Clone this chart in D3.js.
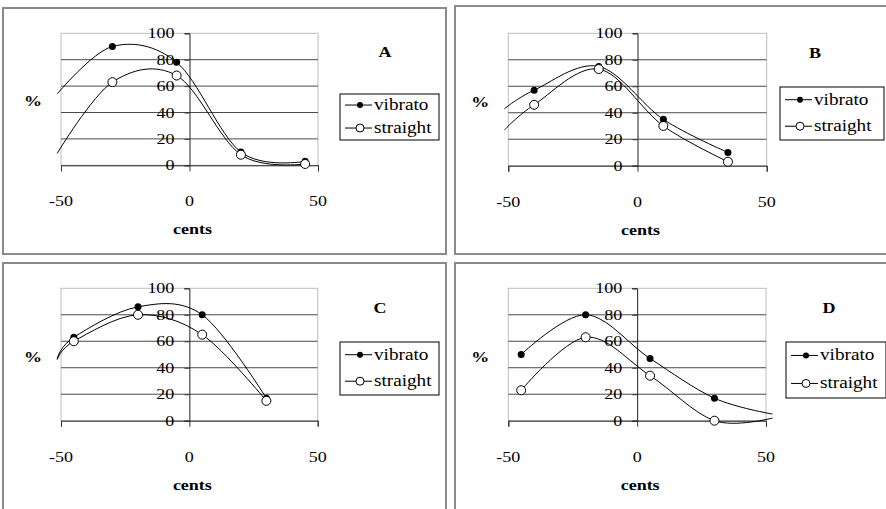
<!DOCTYPE html>
<html>
<head>
<meta charset="utf-8">
<script src="https://cdn.jsdelivr.net/npm/d3@7"></script>
<style>
  html, body { margin: 0; padding: 0; background: #fff; }
  svg { display: block; }
</style>
</head>
<body>
<svg id="chart" width="886" height="509"></svg>
<script>
// ---- data ----------------------------------------------------------------
const panelNames = ["A", "B", "C", "D"];
const seriesNames = ["vibrato", "straight"];
const xTicks = [-50, 0, 50];
const yTicks = [0, 20, 40, 60, 80, 100];

// cents at which each panel was measured
const centsA = [-30, -5, 20, 45];
const centsB = [-40, -15, 10, 35];
const centsC = [-45, -20, 5, 30];
const centsD = [-45, -20, 5, 30];

// % responses
const vibratoA  = [90, 78, 10, 3];
const straightA = [63, 68, 8, 1];
const vibratoB  = [57, 75, 35, 10];
const straightB = [46, 73, 30, 3];
const vibratoC  = [63, 86, 80, 17];
const straightC = [60, 80, 65, 15];
const vibratoD  = [50, 80, 47, 17];
const straightD = [23, 63, 34, 0];

// unmarked ends of the smoothed lines where they run past the outer points
// [cents, vibrato %, straight %]
const leadA  = [-51.5, 54, 9];
const leadB  = [-51.5, 43, 27];
const leadC  = [-51.5, 47, 46];
const trailD = [52.5, 5, 2];

// ---- layout --------------------------------------------------------------
const FONT = "'Liberation Serif', 'Times New Roman', Times, 'DejaVu Serif', serif";

const layout = {
  A: { frame: [3, 8, 443, 246],   px: [61, 318],    py: [165.3, 33.3], letterX: 385, legend: [340, 94, 99, 46] },
  B: { frame: [455, 6, 440, 248], px: [508.3, 766.7], py: [165.7, 33.3], letterX: 815, legend: [780, 87, 104, 53] },
  C: { frame: [3, 263, 443, 250], px: [61, 317.7],  py: [420.7, 288.3], letterX: 380, legend: [340, 342, 99, 53] },
  D: { frame: [455, 263, 440, 250], px: [508.3, 766], py: [420.7, 288.3], letterX: 829, legend: [786, 342, 100, 56] }
};

const panelData = {
  A: { cents: centsA, vib: vibratoA, str: straightA, lead: leadA, trail: null },
  B: { cents: centsB, vib: vibratoB, str: straightB, lead: leadB, trail: null },
  C: { cents: centsC, vib: vibratoC, str: straightC, lead: leadC, trail: null },
  D: { cents: centsD, vib: vibratoD, str: straightD, lead: null, trail: trailD }
};

const SX = 1.2; // horizontal stretch of the lettering
const svg = d3.select("#chart");

function stretchedText(g, x, y, str, opts) {
  const t = g.append("text")
    .attr("transform", `translate(${x},${y}) scale(${SX},1)`)
    .attr("font-family", FONT)
    .attr("font-size", opts.size)
    .attr("fill", "#000")
    .attr("text-anchor", opts.anchor || "start")
    .text(str);
  if (opts.bold) t.attr("font-weight", "bold");
  return t;
}

panelNames.forEach(name => {
  const L = layout[name];
  const D = panelData[name];
  const g = svg.append("g");

  // outer frame
  g.append("rect")
    .attr("x", L.frame[0]).attr("y", L.frame[1])
    .attr("width", L.frame[2]).attr("height", L.frame[3])
    .attr("fill", "#fff").attr("stroke", "#8a8a8a").attr("stroke-width", 2);

  const x = d3.scaleLinear().domain([-50, 50]).range(L.px);
  const y = d3.scaleLinear().domain([0, 100]).range(L.py);

  // plot border
  g.append("rect")
    .attr("x", x(-50)).attr("y", y(100))
    .attr("width", x(50) - x(-50)).attr("height", y(0) - y(100))
    .attr("fill", "none").attr("stroke", "#bdbdbd").attr("stroke-width", 1);

  // horizontal gridlines
  g.append("g").selectAll("line")
    .data(yTicks.filter(v => v > 0 && v < 100))
    .join("line")
    .attr("x1", x(-50)).attr("x2", x(50))
    .attr("y1", d => y(d)).attr("y2", d => y(d))
    .attr("stroke", "#4a4a4a").attr("stroke-width", 1);

  // x axis along 0 %
  const xAxis = g.append("g")
    .attr("transform", `translate(0,${y(0)})`)
    .call(d3.axisBottom(x).tickValues(xTicks).tickSize(6).tickFormat(""));
  xAxis.select(".domain").attr("stroke", "#222");
  xAxis.selectAll(".tick line").attr("stroke", "#333");

  // y axis through 0 cents
  const yAxis = g.append("g")
    .attr("transform", `translate(${x(0)},0)`)
    .call(d3.axisLeft(y).tickValues(yTicks).tickSize(5).tickFormat(""));
  yAxis.select(".domain").attr("stroke", "#222");
  yAxis.selectAll(".tick line").attr("stroke", "#333");

  // tick labels
  yTicks.forEach(v => stretchedText(g, x(0) - 15, y(v) + 5, String(v), { size: 15, anchor: "end" }));
  xTicks.forEach(v => stretchedText(g, x(v), y(0) + 41, String(v), { size: 15, anchor: "middle" }));

  // axis titles and panel letter
  stretchedText(g, x(-50) - 28, y(0) - 59, "%", { size: 15, anchor: "middle", bold: true });
  stretchedText(g, x(0) + 3, y(0) + 69, "cents", { size: 15, anchor: "middle", bold: true });
  stretchedText(g, L.letterX, y(0) - 108, name, { size: 15, anchor: "middle", bold: true });

  // smoothed lines
  const line = d3.line().x(d => x(d[0])).y(d => y(d[1])).curve(d3.curveCardinal.tension(0));
  [["vib", 1], ["str", 2]].forEach(([key, idx]) => {
    let pts = D.cents.map((c, i) => [c, D[key][i]]);
    if (D.lead) pts = [[D.lead[0], D.lead[idx]], ...pts];
    if (D.trail) pts = [...pts, [D.trail[0], D.trail[idx]]];
    g.append("path").attr("d", line(pts))
      .attr("fill", "none").attr("stroke", "#000").attr("stroke-width", 1);
  });

  // markers: filled vibrato, then open straight on top
  g.append("g").selectAll("circle")
    .data(D.cents.map((c, i) => [c, D.vib[i]]))
    .join("circle")
    .attr("cx", d => x(d[0])).attr("cy", d => y(d[1])).attr("r", 3.5)
    .attr("fill", "#000");
  g.append("g").selectAll("circle")
    .data(D.cents.map((c, i) => [c, D.str[i]]))
    .join("circle")
    .attr("cx", d => x(d[0])).attr("cy", d => y(d[1])).attr("r", 4.5)
    .attr("fill", "#fff").attr("stroke", "#000").attr("stroke-width", 1);

  // legend
  const [lx, ly, lw, lh] = L.legend;
  const lg = g.append("g");
  lg.append("rect").attr("x", lx).attr("y", ly).attr("width", lw).attr("height", lh)
    .attr("fill", "#fff").attr("stroke", "#000").attr("stroke-width", 1);
  seriesNames.forEach((s, i) => {
    const ry = ly + lh * (i === 0 ? 0.24 : 0.74);
    lg.append("line").attr("x1", lx + 5).attr("x2", lx + 32).attr("y1", ry).attr("y2", ry)
      .attr("stroke", "#000").attr("stroke-width", 1);
    const m = lg.append("circle").attr("cx", lx + 20).attr("cy", ry);
    if (i === 0) m.attr("r", 3).attr("fill", "#000");
    else m.attr("r", 4).attr("fill", "#fff").attr("stroke", "#000");
    stretchedText(lg, lx + 34, ry + 5, s, { size: 16 });
  });
});
</script>
</body>
</html>
